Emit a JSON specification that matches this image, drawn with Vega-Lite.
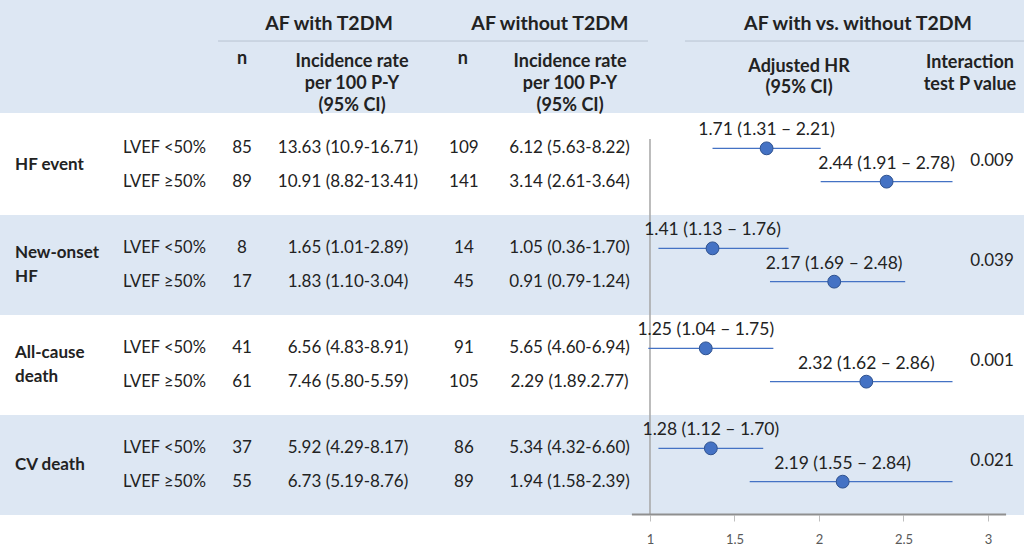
{
  "$schema": "https://vega.github.io/schema/vega-lite/v6.json",
  "padding": 0,
  "background": "white",
  "spacing": 0,
  "config": {
    "view": {"stroke": null},
    "font": "Lato",
    "text": {"font": "Lato", "color": "#222222"},
    "concat": {"spacing": 0}
  },
  "datasets": {
    "rows": [
      {"outcome": "HF event", "lvef": "LVEF <50%", "n_t2dm": 85, "ir_t2dm": "13.63 (10.9-16.71)", "n_no": 109, "ir_no": "6.12 (5.63-8.22)", "hr_text": "1.71 (1.31 – 2.21)", "hr": 1.69, "lo": 1.37, "hi": 2.01},
      {"outcome": "HF event", "lvef": "LVEF ≥50%", "n_t2dm": 89, "ir_t2dm": "10.91 (8.82-13.41)", "n_no": 141, "ir_no": "3.14 (2.61-3.64)", "hr_text": "2.44 (1.91 – 2.78)", "hr": 2.40, "lo": 2.01, "hi": 2.79},
      {"outcome": "New-onset HF", "lvef": "LVEF <50%", "n_t2dm": 8, "ir_t2dm": "1.65 (1.01-2.89)", "n_no": 14, "ir_no": "1.05 (0.36-1.70)", "hr_text": "1.41 (1.13 – 1.76)", "hr": 1.37, "lo": 1.05, "hi": 1.82},
      {"outcome": "New-onset HF", "lvef": "LVEF ≥50%", "n_t2dm": 17, "ir_t2dm": "1.83 (1.10-3.04)", "n_no": 45, "ir_no": "0.91 (0.79-1.24)", "hr_text": "2.17 (1.69 – 2.48)", "hr": 2.09, "lo": 1.71, "hi": 2.51},
      {"outcome": "All-cause death", "lvef": "LVEF <50%", "n_t2dm": 41, "ir_t2dm": "6.56 (4.83-8.91)", "n_no": 91, "ir_no": "5.65 (4.60-6.94)", "hr_text": "1.25 (1.04 – 1.75)", "hr": 1.33, "lo": 0.99, "hi": 1.73},
      {"outcome": "All-cause death", "lvef": "LVEF ≥50%", "n_t2dm": 61, "ir_t2dm": "7.46 (5.80-5.59)", "n_no": 105, "ir_no": "2.29 (1.89.2.77)", "hr_text": "2.32 (1.62 – 2.86)", "hr": 2.28, "lo": 1.71, "hi": 2.79},
      {"outcome": "CV death", "lvef": "LVEF <50%", "n_t2dm": 37, "ir_t2dm": "5.92 (4.29-8.17)", "n_no": 86, "ir_no": "5.34 (4.32-6.60)", "hr_text": "1.28 (1.12 – 1.70)", "hr": 1.36, "lo": 1.05, "hi": 1.67},
      {"outcome": "CV death", "lvef": "LVEF ≥50%", "n_t2dm": 55, "ir_t2dm": "6.73 (5.19-8.76)", "n_no": 89, "ir_no": "1.94 (1.58-2.39)", "hr_text": "2.19 (1.55 – 2.84)", "hr": 2.14, "lo": 1.59, "hi": 2.79}
    ],
    "groups": [
      {"outcome": "HF event", "label": "HF event", "lines": 1, "p": "0.009"},
      {"outcome": "New-onset HF", "label": "New-onset\nHF", "lines": 2, "p": "0.039"},
      {"outcome": "All-cause death", "label": "All-cause\ndeath", "lines": 2, "p": "0.001"},
      {"outcome": "CV death", "label": "CV death", "lines": 1, "p": "0.021"}
    ],
    "header": [
      {"key": "g1", "level": "group", "text": "AF with T2DM"},
      {"key": "g2", "level": "group", "text": "AF without T2DM"},
      {"key": "g3", "level": "group", "text": "AF with vs. without T2DM"},
      {"key": "n1", "level": "measure", "text": "n"},
      {"key": "ir1", "level": "measure", "text": "Incidence rate\nper 100 P-Y\n(95% CI)"},
      {"key": "n2", "level": "measure", "text": "n"},
      {"key": "ir2", "level": "measure", "text": "Incidence rate\nper 100 P-Y\n(95% CI)"},
      {"key": "hr", "level": "measure", "text": "Adjusted HR\n(95% CI)"},
      {"key": "p", "level": "measure", "text": "Interaction\ntest P value"}
    ]
  },
  "vconcat": [
    {
      "width": 1024,
      "height": 113,
      "view": {"fill": "#dde7f3", "stroke": null},
      "data": {"name": "header"},
      "layer": [
        {
          "transform": [{"filter": "datum.key === 'g1'"}],
          "mark": {"type": "rule", "color": "#b8c3d1", "strokeWidth": 1},
          "encoding": {
            "x": {"datum": -1.556, "type": "quantitative", "scale": {"domain": [-2.846, 3.213], "nice": false, "zero": false}, "axis": null},
            "x2": {"datum": 0.988},
            "y": {"datum": "group", "type": "nominal", "bandPosition": 0.726, "scale": {"domain": ["group", "measure"], "paddingInner": 0, "paddingOuter": 0}, "axis": null}
          }
        },
        {
          "transform": [{"filter": "datum.key === 'g3'"}],
          "mark": {"type": "rule", "color": "#b8c3d1", "strokeWidth": 1},
          "encoding": {
            "x": {"datum": 1.207, "type": "quantitative"},
            "x2": {"datum": 3.213},
            "y": {"datum": "group", "type": "nominal", "bandPosition": 0.726}
          }
        },
        {
          "transform": [{"filter": "datum.key === 'g1'"}],
          "mark": {"type": "text", "fontWeight": "bold", "fontSize": 19.5, "baseline": "middle", "align": "center"},
          "encoding": {
            "x": {"datum": -0.899, "type": "quantitative"},
            "y": {"field": "level", "type": "nominal", "bandPosition": 0.42},
            "text": {"field": "text"}
          }
        },
        {
          "transform": [{"filter": "datum.key === 'g2'"}],
          "mark": {"type": "text", "fontWeight": "bold", "fontSize": 19.5, "baseline": "middle", "align": "center"},
          "encoding": {
            "x": {"datum": 0.408, "type": "quantitative"},
            "y": {"field": "level", "type": "nominal", "bandPosition": 0.42},
            "text": {"field": "text"}
          }
        },
        {
          "transform": [{"filter": "datum.key === 'g3'"}],
          "mark": {"type": "text", "fontWeight": "bold", "fontSize": 19.5, "baseline": "middle", "align": "center"},
          "encoding": {
            "x": {"datum": 2.231, "type": "quantitative"},
            "y": {"field": "level", "type": "nominal", "bandPosition": 0.42},
            "text": {"field": "text"}
          }
        },
        {
          "transform": [{"filter": "datum.key === 'n1'"}],
          "mark": {"type": "text", "fontWeight": "bold", "fontSize": 18, "baseline": "middle", "align": "center"},
          "encoding": {
            "x": {"datum": -1.414, "type": "quantitative"},
            "y": {"field": "level", "type": "nominal", "bandPosition": 0.05},
            "text": {"field": "text"}
          }
        },
        {
          "transform": [{"filter": "datum.key === 'n2'"}],
          "mark": {"type": "text", "fontWeight": "bold", "fontSize": 18, "baseline": "middle", "align": "center"},
          "encoding": {
            "x": {"datum": -0.107, "type": "quantitative"},
            "y": {"field": "level", "type": "nominal", "bandPosition": 0.05},
            "text": {"field": "text"}
          }
        },
        {
          "transform": [{"filter": "datum.key === 'ir1'"}],
          "mark": {"type": "text", "fontWeight": "bold", "fontSize": 18, "baseline": "middle", "align": "center", "lineBreak": "\n", "lineHeight": 22},
          "encoding": {
            "x": {"datum": -0.763, "type": "quantitative"},
            "y": {"field": "level", "type": "nominal", "bandPosition": 0.095},
            "text": {"field": "text"}
          }
        },
        {
          "transform": [{"filter": "datum.key === 'ir2'"}],
          "mark": {"type": "text", "fontWeight": "bold", "fontSize": 18, "baseline": "middle", "align": "center", "lineBreak": "\n", "lineHeight": 22},
          "encoding": {
            "x": {"datum": 0.527, "type": "quantitative"},
            "y": {"field": "level", "type": "nominal", "bandPosition": 0.095},
            "text": {"field": "text"}
          }
        },
        {
          "transform": [{"filter": "datum.key === 'hr'"}],
          "mark": {"type": "text", "fontWeight": "bold", "fontSize": 18, "baseline": "middle", "align": "center", "lineBreak": "\n", "lineHeight": 21},
          "encoding": {
            "x": {"datum": 1.882, "type": "quantitative"},
            "y": {"field": "level", "type": "nominal", "bandPosition": 0.19},
            "text": {"field": "text"}
          }
        },
        {
          "transform": [{"filter": "datum.key === 'p'"}],
          "mark": {"type": "text", "fontWeight": "bold", "fontSize": 18, "baseline": "middle", "align": "center", "lineBreak": "\n", "lineHeight": 22},
          "encoding": {
            "x": {"datum": 2.893, "type": "quantitative"},
            "y": {"field": "level", "type": "nominal", "bandPosition": 0.115},
            "text": {"field": "text"}
          }
        }
      ]
    },
    {
      "width": 1024,
      "height": 400,
      "resolve": {"scale": {"yOffset": "independent"}},
      "layer": [
        {
          "data": {"name": "groups"},
          "mark": {"type": "bar"},
          "encoding": {
            "x": {"datum": -2.846, "type": "quantitative", "scale": {"domain": [-2.846, 3.213], "nice": false, "zero": false}},
            "x2": {"datum": 3.213},
            "y": {"field": "outcome", "type": "nominal", "scale": {"domain": ["HF event", "New-onset HF", "All-cause death", "CV death"], "paddingInner": 0, "paddingOuter": 0}, "axis": null},
            "color": {"field": "outcome", "type": "nominal", "scale": {"domain": ["HF event", "New-onset HF", "All-cause death", "CV death"], "range": ["#ffffff", "#dde7f3", "#ffffff", "#dde7f3"]}, "legend": null}
          }
        },
        {
          "layer": [
            {
              "data": {"name": "groups"},
              "transform": [{"filter": "datum.lines === 1"}],
              "mark": {"type": "text", "fontWeight": "bold", "fontSize": 17, "align": "left", "baseline": "middle"},
              "encoding": {
                "x": {"datum": -2.757, "type": "quantitative"},
                "y": {"field": "outcome", "type": "nominal"},
                "text": {"field": "label"}
              }
            },
            {
              "data": {"name": "groups"},
              "transform": [{"filter": "datum.lines === 2"}],
              "mark": {"type": "text", "fontWeight": "bold", "fontSize": 17, "align": "left", "baseline": "middle", "lineBreak": "\n", "lineHeight": 24, "dy": -12},
              "encoding": {
                "x": {"datum": -2.757, "type": "quantitative"},
                "y": {"field": "outcome", "type": "nominal"},
                "text": {"field": "label"}
              }
            },
            {
              "data": {"name": "groups"},
              "mark": {"type": "text", "fontSize": 17, "align": "center", "baseline": "middle", "dy": -4},
              "encoding": {
                "x": {"datum": 3.024, "type": "quantitative"},
                "y": {"field": "outcome", "type": "nominal"},
                "text": {"field": "p"}
              }
            },
            {
              "data": {"name": "rows"},
              "mark": {"type": "text", "fontSize": 16.5, "align": "left", "baseline": "middle"},
              "encoding": {
                "x": {"datum": -2.118, "type": "quantitative"},
                "y": {"field": "outcome", "type": "nominal"},
                "yOffset": {"field": "lvef", "type": "nominal", "scale": {"type": "point", "padding": 1, "domain": ["LVEF <50%", "LVEF ≥50%"]}},
                "text": {"field": "lvef"}
              }
            },
            {
              "data": {"name": "rows"},
              "mark": {"type": "text", "fontSize": 17, "align": "center", "baseline": "middle"},
              "encoding": {
                "x": {"datum": -1.414, "type": "quantitative"},
                "y": {"field": "outcome", "type": "nominal"},
                "yOffset": {"field": "lvef", "type": "nominal"},
                "text": {"field": "n_t2dm"}
              }
            },
            {
              "data": {"name": "rows"},
              "mark": {"type": "text", "fontSize": 17, "align": "center", "baseline": "middle"},
              "encoding": {
                "x": {"datum": -0.787, "type": "quantitative"},
                "y": {"field": "outcome", "type": "nominal"},
                "yOffset": {"field": "lvef", "type": "nominal"},
                "text": {"field": "ir_t2dm"}
              }
            },
            {
              "data": {"name": "rows"},
              "mark": {"type": "text", "fontSize": 17, "align": "center", "baseline": "middle"},
              "encoding": {
                "x": {"datum": -0.101, "type": "quantitative"},
                "y": {"field": "outcome", "type": "nominal"},
                "yOffset": {"field": "lvef", "type": "nominal"},
                "text": {"field": "n_no"}
              }
            },
            {
              "data": {"name": "rows"},
              "mark": {"type": "text", "fontSize": 17, "align": "center", "baseline": "middle"},
              "encoding": {
                "x": {"datum": 0.524, "type": "quantitative"},
                "y": {"field": "outcome", "type": "nominal"},
                "yOffset": {"field": "lvef", "type": "nominal"},
                "text": {"field": "ir_no"}
              }
            },
            {
              "data": {"name": "groups"},
              "transform": [{"filter": "datum.outcome === 'HF event'"}],
              "mark": {"type": "rule", "color": "#a6a6a6", "strokeWidth": 1.5},
              "encoding": {
                "x": {"datum": 1, "type": "quantitative"},
                "y": {"datum": "HF event", "type": "nominal", "bandPosition": 0.24},
                "y2": {"datum": "CV death", "bandPosition": 1}
              }
            },
            {
              "data": {"name": "groups"},
              "transform": [{"filter": "datum.outcome === 'CV death'"}],
              "mark": {"type": "rule", "color": "#8f8f8f", "strokeWidth": 2},
              "encoding": {
                "x": {"datum": 0.893, "type": "quantitative"},
                "x2": {"datum": 3.107},
                "y": {"datum": "CV death", "type": "nominal", "bandPosition": 0.995}
              }
            },
            {
              "data": {"name": "rows"},
              "mark": {"type": "rule", "color": "#4472c4", "strokeWidth": 1.3},
              "encoding": {
                "x": {"field": "lo", "type": "quantitative"},
                "x2": {"field": "hi"},
                "y": {"field": "outcome", "type": "nominal"},
                "yOffset": {"field": "lvef", "type": "nominal"}
              }
            },
            {
              "data": {"name": "rows"},
              "mark": {"type": "circle", "size": 165, "color": "#4472c4", "stroke": "#2f528f", "strokeWidth": 1, "opacity": 1},
              "encoding": {
                "x": {"field": "hr", "type": "quantitative", "axis": {"values": [1, 1.5, 2, 2.5, 3], "format": "~g", "domain": false, "grid": false, "title": null, "ticks": true, "tickColor": "#bfbfbf", "tickSize": 6, "labelColor": "#595959", "labelFontSize": 13, "labelFont": "Lato", "labelPadding": 12}},
                "y": {"field": "outcome", "type": "nominal"},
                "yOffset": {"field": "lvef", "type": "nominal"}
              }
            },
            {
              "data": {"name": "rows"},
              "mark": {"type": "text", "fontSize": 17.5, "align": "center", "baseline": "middle", "dy": -18},
              "encoding": {
                "x": {"field": "hr", "type": "quantitative"},
                "y": {"field": "outcome", "type": "nominal"},
                "yOffset": {"field": "lvef", "type": "nominal"},
                "text": {"field": "hr_text"}
              }
            }
          ]
        }
      ]
    }
  ]
}
